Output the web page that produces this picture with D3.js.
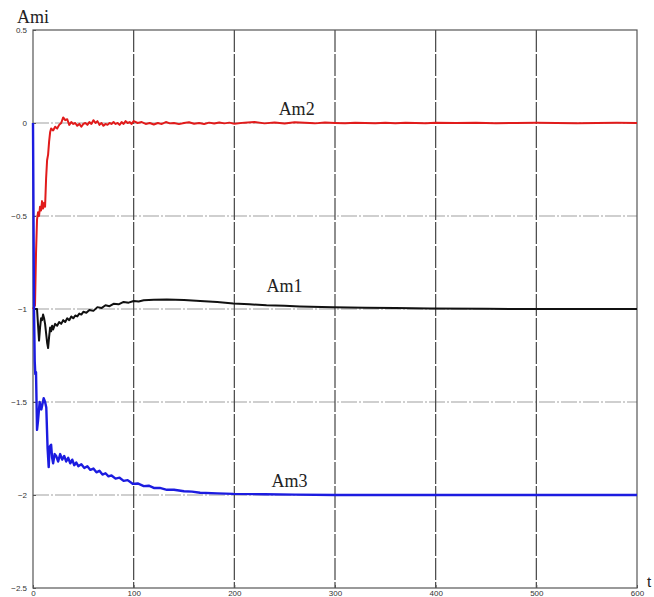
<!DOCTYPE html>
<html>
<head>
<meta charset="utf-8">
<script src="https://cdn.jsdelivr.net/npm/d3@7"></script>
<style>
  body { margin: 0; background: #fff; }
  svg { display: block; }
  .tick text { font-family: "Liberation Sans", Arial, sans-serif; font-size: 8px; fill: #333; }
  .lbl { font-family: "Liberation Serif", "Times New Roman", serif; font-size: 18px; fill: #222; }
</style>
</head>
<body>
<svg id="chart" width="654" height="597"></svg>
<script>
// time axis ticks and value ticks
const xTicks = [0, 100, 200, 300, 400, 500, 600]
const yTicks = [0.5, 0, -0.5, -1, -1.5, -2, -2.5]

// Am2 (red)
const am2 = [[0,-1.0],[2,-0.98],[3,-0.7],[4,-0.52],[5,-0.48],[6,-0.5],[7,-0.45],[8,-0.47],[9,-0.42],
  [10,-0.46],[11,-0.43],[12,-0.45],[13,-0.3],[14,-0.2],[15,-0.17],[16,-0.1],[17,-0.05],[18,-0.03],
  [20,-0.04],[22,-0.02],[24,-0.03],[26,-0.01],[28,0.0],[30,0.03],[32,0.015],[34,0.02],[36,-0.01],
  [38,0.005],[40,-0.005],[42,0.0],[44,-0.015],[46,-0.005],[48,-0.02],[50,-0.005],[52,0.0],[54,-0.01],
  [56,0.005],[58,-0.005],[60,0.015],[62,0.0],[64,0.01],[66,-0.01],[68,0.0],[70,-0.015],[72,-0.005],
  [74,-0.01],[76,0.0],[78,-0.005],[80,0.005],[82,-0.005],[84,0.0],[86,-0.01],[88,0.005],[90,-0.005],
  [92,0.01],[94,0.0],[96,0.005],[98,-0.005],[100,0.01],[104,0.0],[108,0.005],[112,-0.005],[116,0.0],
  [120,-0.008],[124,0.0],[128,-0.005],[132,0.005],[136,-0.002],[140,0.0],[145,-0.006],[150,0.0],
  [155,0.004],[160,-0.004],[165,0.0],[170,-0.005],[175,0.002],[180,-0.003],[185,0.003],[190,-0.002],
  [195,0.002],[200,-0.004],[210,0.002],[220,0.005],[230,-0.002],[240,0.003],[250,-0.003],[260,0.004],
  [270,0.001],[280,-0.002],[290,0.003],[300,0.0],[310,-0.002],[320,0.002],[330,0.0],[340,-0.002],
  [350,0.001],[360,-0.001],[370,0.002],[380,0.0],[390,-0.001],[400,0.001],[420,0.0],[440,0.001],
  [460,-0.001],[480,0.0],[500,0.001],[520,0.0],[540,-0.001],[560,0.0],[580,0.001],[600,0.0]]

// Am1 (black)
const am1 = [[0,-1.0],[4,-1.0],[6,-1.17],[7,-1.1],[8,-1.05],[9,-1.06],[10,-1.03],[11,-1.05],[12,-1.08],
  [14,-1.18],[15,-1.21],[16,-1.15],[17,-1.1],[18,-1.12],[19,-1.09],[20,-1.11],[22,-1.08],[24,-1.09],
  [26,-1.07],[28,-1.08],[30,-1.06],[32,-1.07],[34,-1.05],[36,-1.06],[38,-1.04],[40,-1.05],[42,-1.035],
  [44,-1.04],[46,-1.025],[48,-1.03],[50,-1.015],[53,-1.02],[56,-1.005],[60,-1.01],[64,-0.99],[68,-0.995],
  [72,-0.98],[76,-0.985],[80,-0.972],[85,-0.975],[90,-0.962],[95,-0.966],[100,-0.957],[105,-0.96],
  [110,-0.953],[120,-0.95],[133,-0.949],[150,-0.952],[166,-0.957],[183,-0.963],[199,-0.97],[215,-0.975],
  [232,-0.98],[250,-0.983],[265,-0.986],[298,-0.99],[330,-0.993],[360,-0.995],[394,-0.997],[450,-0.999],
  [500,-1.0],[550,-1.0],[600,-1.0]]

// Am3 (blue)
const am3 = [[0,0.0],[1,-1.0],[1.7,-1.28],[2.3,-1.35],[3,-1.34],[4,-1.65],[5,-1.6],[6.6,-1.5],[8.3,-1.54],
  [10.6,-1.48],[12,-1.5],[13.2,-1.53],[14.5,-1.75],[15.6,-1.85],[16.5,-1.74],[18,-1.73],[19,-1.8],
  [20,-1.83],[21.5,-1.78],[23,-1.79],[25,-1.82],[27,-1.78],[29,-1.81],[31,-1.79],[33,-1.82],[35,-1.8],
  [37,-1.83],[39,-1.81],[41,-1.84],[43,-1.825],[45,-1.845],[48,-1.835],[51,-1.855],[54,-1.845],
  [57,-1.865],[60,-1.858],[63,-1.878],[66,-1.87],[69,-1.89],[72,-1.883],[75,-1.9],[78,-1.895],
  [82,-1.912],[86,-1.907],[90,-1.924],[94,-1.92],[99,-1.94],[104,-1.938],[110,-1.952],[115,-1.95],
  [120,-1.962],[126,-1.962],[133,-1.972],[140,-1.972],[150,-1.98],[158,-1.982],[166,-1.988],
  [183,-1.991],[199,-1.994],[230,-1.996],[260,-1.998],[300,-2.0],[600,-2.0]]

const series = [
  { name: 'Am2', data: am2, color: '#e11b1b', width: 2, label: [244, 0.043] },
  { name: 'Am1', data: am1, color: '#111111', width: 2, label: [232, -0.91] },
  { name: 'Am3', data: am3, color: '#1c1ce0', width: 2.4, label: [237, -1.957] }
]

const svg = d3.select('#chart')
const margin = { top: 30, right: 17, bottom: 9, left: 33 }
const width = 654 - margin.left - margin.right
const height = 597 - margin.top - margin.bottom

const x = d3.scaleLinear().domain([0, 600]).range([0, width])
const y = d3.scaleLinear().domain([-2.5, 0.5]).range([height, 0])

const g = svg.append('g').attr('transform', `translate(${margin.left},${margin.top})`)

// grid
g.append('g').selectAll('line.hgrid').data(yTicks.filter(d => d > -2.5 && d < 0.5)).enter()
  .append('line').attr('class', 'hgrid')
  .attr('x1', 0).attr('x2', width)
  .attr('y1', d => y(d)).attr('y2', d => y(d))
  .attr('stroke', '#a0a0a0').attr('stroke-width', 1.2)
  .attr('stroke-dasharray', '16,2,2,2')

g.append('g').selectAll('line.vgrid').data(xTicks.filter(d => d > 0 && d < 600)).enter()
  .append('line').attr('class', 'vgrid')
  .attr('x1', d => x(d)).attr('x2', d => x(d))
  .attr('y1', 0).attr('y2', height)
  .attr('stroke', '#444').attr('stroke-width', 1.2)
  .attr('stroke-dasharray', '22,2')

// axes
let yAxis = g.append('g')
  .call(d3.axisLeft(y).tickValues(yTicks).tickSizeInner(-3).tickSizeOuter(0).tickPadding(6)
    .tickFormat(d3.format('')))
let xAxis = g.append('g').attr('transform', `translate(0,${height})`)
  .call(d3.axisBottom(x).tickValues(xTicks).tickSizeInner(-3).tickSizeOuter(0).tickPadding(6))
;[yAxis, xAxis].forEach(a => {
  a.select('.domain').remove()
  a.selectAll('.tick line').attr('stroke', '#555')
})
xAxis.selectAll('.tick text').attr('dy', '0.2em')

// box
g.append('rect').attr('x', 0).attr('y', 0).attr('width', width).attr('height', height)
  .attr('fill', 'none').attr('stroke', '#555').attr('stroke-width', 1.2)

// lines
let line = d3.line().x(d => x(d[0])).y(d => y(d[1]))
series.forEach(s => {
  g.append('path').datum(s.data)
    .attr('fill', 'none')
    .attr('stroke', s.color)
    .attr('stroke-width', s.width)
    .attr('stroke-linejoin', 'round')
    .attr('d', line)
  g.append('text').attr('class', 'lbl')
    .attr('x', x(s.label[0])).attr('y', y(s.label[1]))
    .text(s.name)
})

// axis names
svg.append('text').attr('class', 'lbl').attr('x', 17).attr('y', 23).text('Ami')
svg.append('text').attr('x', 647).attr('y', 587)
  .style('font-family', '"Liberation Sans", Arial, sans-serif').style('font-size', '15px')
  .attr('fill', '#222').text('t')
</script>
</body>
</html>
